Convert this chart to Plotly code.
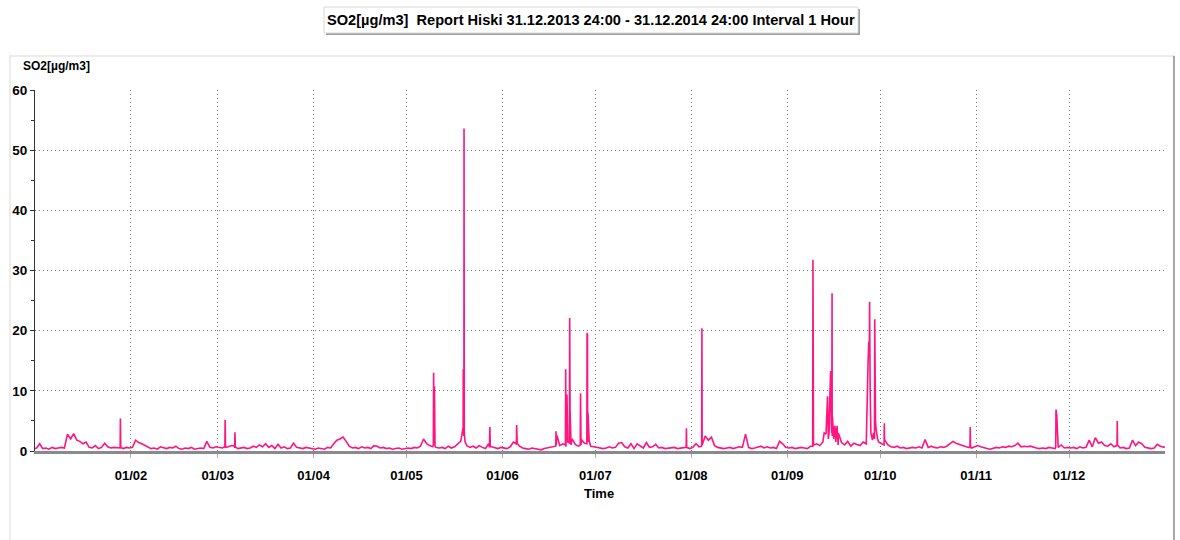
import pandas as pd
import plotly.graph_objects as go

YEAR = 2014

# Daily background level (value around midday)
jan = [0.5, 1.2, 0.4, 0.5, 0.3, 0.6, 0.4, 0.5, 0.6, 0.5, 2.8, 2.0, 2.9, 1.8, 1.6, 1.2, 1.5, 0.6, 0.5, 0.9,
       0.4, 0.6, 1.3, 0.7, 0.5, 0.6, 0.6, 0.5, 0.4, 0.6, 0.5]
feb = [0.6, 1.8, 1.4, 1.2, 0.9, 0.6, 0.4, 0.5, 0.3, 0.7, 0.5, 0.4, 0.6, 0.5, 0.8, 0.4, 0.3, 0.5, 0.4, 0.6,
       0.3, 0.4, 0.5, 0.4, 1.6, 0.6, 0.5, 0.7]
mar = [0.6, 0.5, 0.8, 0.7, 0.9, 0.5, 0.4, 0.5, 0.6, 0.4, 0.5, 0.8, 0.6, 1.0, 0.7, 1.2, 0.6, 0.9, 0.4, 1.1,
       0.5, 0.7, 0.4, 0.5, 1.3, 0.6, 0.5, 0.4, 0.6, 0.5, 0.4]
apr = [0.3, 0.5, 0.4, 0.3, 0.6, 0.5, 1.2, 1.8, 2.0, 2.3, 1.6, 0.8, 0.5, 0.6, 0.4, 0.7, 0.5, 0.6, 0.4, 0.9,
       0.8, 0.5, 0.6, 0.4, 0.5, 0.3, 0.4, 0.5, 0.3, 0.4]
may = [0.5, 0.4, 0.6, 0.5, 0.8, 2.0, 1.2, 0.9, 0.7, 0.6, 0.5, 0.6, 0.4, 0.8, 0.5, 0.7, 1.1, 1.6, 2.5, 0.9,
       0.6, 0.8, 0.5, 0.9, 0.6, 0.4, 1.2, 0.7, 0.5, 0.4, 0.6]
jun = [0.5, 0.4, 0.7, 1.5, 1.8, 0.8, 0.5, 0.4, 0.3, 0.5, 0.4, 0.3, 0.2, 0.4, 0.5, 0.6, 0.8, 2.5, 0.9, 1.2,
       0.7, 1.5, 2.0, 1.1, 0.8, 1.9, 1.3, 1.5, 0.8, 0.7]
jul = [0.6, 0.5, 0.4, 0.5, 0.7, 0.5, 0.6, 1.3, 1.4, 0.7, 0.5, 1.2, 0.4, 1.2, 0.8, 0.5, 1.4, 0.6, 0.7, 1.1,
       0.5, 0.6, 0.4, 0.5, 0.5, 0.6, 0.4, 0.5, 0.6, 0.5, 0.4]
aug = [0.6, 1.2, 0.7, 1.0, 2.5, 1.8, 2.3, 0.9, 0.6, 0.5, 0.4, 0.5, 0.6, 0.4, 0.5, 0.7, 0.6, 2.8, 0.6, 0.4,
       0.5, 0.6, 0.8, 0.5, 0.7, 0.5, 0.6, 0.4, 1.6, 1.2, 0.6]
sep = [0.5, 0.6, 0.4, 0.5, 0.6, 0.5, 0.4, 0.8, 1.0, 1.2, 0.9, 1.5, 2.8, 3.0, 2.5, 3.6, 3.0, 1.4, 1.0, 1.6,
       0.8, 1.3, 1.1, 0.9, 1.5, 1.2, 16.0, 1.8, 5.0, 1.5]
oct_ = [1.2, 1.8, 1.0, 0.7, 0.6, 0.8, 0.5, 0.6, 0.4, 0.5, 0.6, 0.5, 0.7, 0.5, 1.9, 0.6, 0.8, 0.6, 0.5, 0.7,
        0.6, 0.8, 1.2, 1.6, 1.3, 1.1, 0.9, 0.7, 0.6, 0.5, 0.7]
nov = [0.9, 0.7, 0.5, 0.4, 0.3, 0.5, 0.6, 0.5, 0.7, 0.6, 0.8, 0.7, 0.9, 1.3, 0.7, 0.8, 0.7, 0.8, 0.6, 0.5,
       0.4, 0.5, 0.4, 0.6, 0.5, 0.4, 0.6, 1.0, 0.5, 0.6]
dec = [0.5, 0.6, 0.4, 0.7, 0.5, 0.6, 1.8, 0.7, 2.2, 1.3, 1.5, 0.9, 0.8, 1.2, 0.7, 1.0, 0.5, 0.6, 0.4, 0.5,
       1.8, 0.9, 1.5, 1.2, 0.6, 0.5, 0.4, 0.5, 1.1, 0.8, 0.6]
daily_by_month = [jan, feb, mar, apr, may, jun, jul, aug, sep, oct_, nov, dec]

# Short events (peaks): "MM-DD HH:MM"
event_times = [
    "01-01 00:00", "01-28 10:00", "01-28 14:00", "01-28 17:00",
    "03-03 08:00", "03-03 10:00", "03-03 13:00", "03-06 11:00", "03-06 14:00", "03-06 17:00",
    "05-09 16:00", "05-09 18:00", "05-09 22:00", "05-10 01:00", "05-10 05:00",
    "05-18 20:00", "05-19 04:00", "05-19 07:00", "05-19 08:00", "05-19 10:00", "05-19 13:00",
    "05-19 14:00", "05-19 16:00", "05-19 22:00",
    "05-27 19:00", "05-27 22:00", "05-28 02:00",
    "06-05 10:00", "06-05 14:00", "06-05 18:00",
    "06-18 05:00", "06-18 07:00", "06-18 09:00", "06-18 16:00",
    "06-21 08:00", "06-21 10:00", "06-21 14:00", "06-21 20:00", "06-22 02:00",
    "06-22 15:00", "06-22 17:00", "06-22 20:00", "06-23 04:00",
    "06-26 03:00", "06-26 05:00", "06-26 09:00",
    "06-28 06:00", "06-28 08:00", "06-28 11:00", "06-28 15:00", "06-29 00:00",
    "07-30 08:00", "07-30 10:00", "07-30 13:00",
    "08-04 08:00", "08-04 10:00", "08-04 11:00",
    "09-09 05:00", "09-09 07:00", "09-09 09:00", "09-09 11:00",
    "09-12 22:00", "09-14 00:00", "09-14 06:00", "09-14 18:00", "09-15 00:00", "09-15 06:00",
    "09-15 09:00", "09-15 11:00", "09-15 14:00", "09-16 00:00", "09-16 08:00", "09-16 16:00",
    "09-17 02:00", "09-17 10:00",
    "09-27 02:00", "09-27 08:00", "09-27 14:00", "09-27 18:00", "09-28 00:00", "09-28 20:00",
    "09-29 04:00", "09-29 06:00", "09-29 10:00", "09-29 16:00", "09-30 04:00",
    "10-02 06:00", "10-02 08:00", "10-02 10:00",
    "10-30 00:00", "10-30 02:00", "10-30 05:00",
    "11-26 17:00", "11-26 19:00", "11-27 01:00", "11-27 06:00",
    "12-16 11:00", "12-16 14:00", "12-16 16:00",
    "12-31 23:00",
]
event_values = [
    0.4, 0.6, 5.4, 0.6,
    0.7, 5.2, 0.6, 0.8, 3.1, 0.7,
    1.0, 13.0, 2.0, 10.7, 0.8,
    2.5, 3.5, 4.0, 13.6, 4.0, 3.0,
    53.6, 3.0, 1.5,
    0.6, 4.0, 0.7,
    1.2, 4.3, 1.3,
    0.8, 3.3, 1.0, 2.5,
    1.0, 13.6, 3.0, 9.4, 1.5,
    1.2, 22.1, 6.6, 1.0,
    1.0, 9.6, 1.0,
    1.2, 19.6, 19.4, 6.4, 1.7,
    0.6, 3.8, 0.6,
    0.8, 20.4, 1.2,
    0.8, 31.8, 3.8, 0.9,
    3.0, 9.1, 2.0, 9.0, 13.3, 4.0,
    3.0, 26.2, 5.7, 2.0, 4.2, 1.5,
    4.2, 1.0,
    14.6, 18.2, 24.8, 10.7, 3.0, 3.0,
    2.0, 21.9, 9.6, 3.7, 2.0,
    1.0, 4.6, 1.5,
    0.6, 4.0, 0.6,
    0.6, 6.9, 5.9, 0.8,
    0.9, 5.0, 1.0,
    0.6,
]

tick_dates = ["2014-02-01", "2014-03-01", "2014-04-01", "2014-05-01", "2014-06-01", "2014-07-01",
              "2014-08-01", "2014-09-01", "2014-10-01", "2014-11-01", "2014-12-01"]
tick_labels = ["01/02", "01/03", "01/04", "01/05", "01/06", "01/07",
               "01/08", "01/09", "01/10", "01/11", "01/12"]

TITLE = "SO2[µg/m3]  Report Hiski 31.12.2013 24:00 - 31.12.2014 24:00 Interval 1 Hour"
Y_TITLE = "SO2[µg/m3]"
X_TITLE = "Time"

# ---- assemble the series ----
times, values = [], []
for m, arr in enumerate(daily_by_month, start=1):
    for d, v in enumerate(arr, start=1):
        times.append(pd.Timestamp(YEAR, m, d, 12))
        values.append(v)
for t, v in zip(event_times, event_values):
    times.append(pd.Timestamp(f"{YEAR}-{t}"))
    values.append(v)
df = pd.DataFrame({"t": times, "v": values}).sort_values("t", kind="stable")

# ---- layout geometry (pixels) ----
W, H = 1180, 540
L, R, T, B = 35, 15, 90, 89
PW, PH = W - L - R, H - T - B


def px(x):
    return (x - L) / PW


def py(y):
    return (H - B - y) / PH


FONT = "Liberation Sans Narrow, Arial Narrow, Liberation Sans, Arial, sans-serif"

fig = go.Figure()
fig.add_trace(go.Scatter(
    x=df["t"], y=df["v"], mode="lines",
    line=dict(color="#ff1480", width=1.6), hoverinfo="x+y",
))

shapes = [
    # panel frame
    dict(type="rect", xref="paper", yref="paper", x0=px(10), x1=px(1174), y0=py(548), y1=py(56),
         line=dict(color="#ececec", width=2), fillcolor="rgba(0,0,0,0)", layer="below"),
    dict(type="line", xref="paper", yref="paper", x0=px(1174), x1=px(1174), y0=py(548), y1=py(56),
         line=dict(color="#a8a8a8", width=2), layer="below"),
    # title box shadow and box
    dict(type="rect", xref="paper", yref="paper", x0=px(326), x1=px(860), y0=py(35), y1=py(9),
         line=dict(width=0), fillcolor="#a0a0a0", layer="below"),
    dict(type="rect", xref="paper", yref="paper", x0=px(324), x1=px(858), y0=py(33), y1=py(7),
         line=dict(color="#d8d8d8", width=1), fillcolor="white", layer="below"),
]

annotations = [
    dict(text=f"<b>{TITLE}</b>", xref="paper", yref="paper", x=px(591), y=py(20),
         xanchor="center", yanchor="middle", showarrow=False,
         font=dict(family=FONT, size=14.6, color="black")),
    dict(text=f"<b>{Y_TITLE}</b>", xref="paper", yref="paper", x=px(21), y=py(66),
         xanchor="left", yanchor="middle", showarrow=False,
         font=dict(family=FONT, size=12, color="black")),
    dict(text=f"<b>{X_TITLE}</b>", xref="paper", yref="paper", x=px(599), y=py(493),
         xanchor="center", yanchor="middle", showarrow=False,
         font=dict(family=FONT, size=13, color="black")),
]

fig.update_layout(
    width=W, height=H,
    margin=dict(l=L, r=R, t=T, b=B, pad=0, autoexpand=False),
    paper_bgcolor="white", plot_bgcolor="white",
    showlegend=False,
    font=dict(family=FONT, color="black"),
    shapes=shapes, annotations=annotations,
)

fig.update_xaxes(
    type="date", range=["2014-01-01", "2015-01-01"],
    tickvals=tick_dates, ticktext=tick_labels,
    tickfont=dict(family=FONT, size=13, color="black", weight="bold"),
    showgrid=True, gridcolor="#7a7a7a", griddash="1px,3px", gridwidth=1,
    showline=True, linecolor="#8a8a8a", linewidth=3,
    ticks="outside", ticklen=4, tickcolor="#b0b0b0", tickwidth=1,
    ticklabelstandoff=6,
    zeroline=False, layer="below traces", automargin=False,
)
fig.update_yaxes(
    range=[0, 60], dtick=10, tick0=0,
    tickfont=dict(family=FONT, size=13.5, color="black", weight="bold"),
    showgrid=True, gridcolor="#7a7a7a", griddash="1px,3px", gridwidth=1,
    showline=True, linecolor="#333333", linewidth=1,
    ticks="outside", ticklen=4, tickcolor="#333333", tickwidth=1,
    minor=dict(dtick=5, ticks="outside", ticklen=3, tickcolor="#333333", showgrid=False),
    zeroline=False, automargin=False,
)

fig.write_html("out.html", config={"displayModeBar": False},
               post_script="document.body.style.margin='0px';")
